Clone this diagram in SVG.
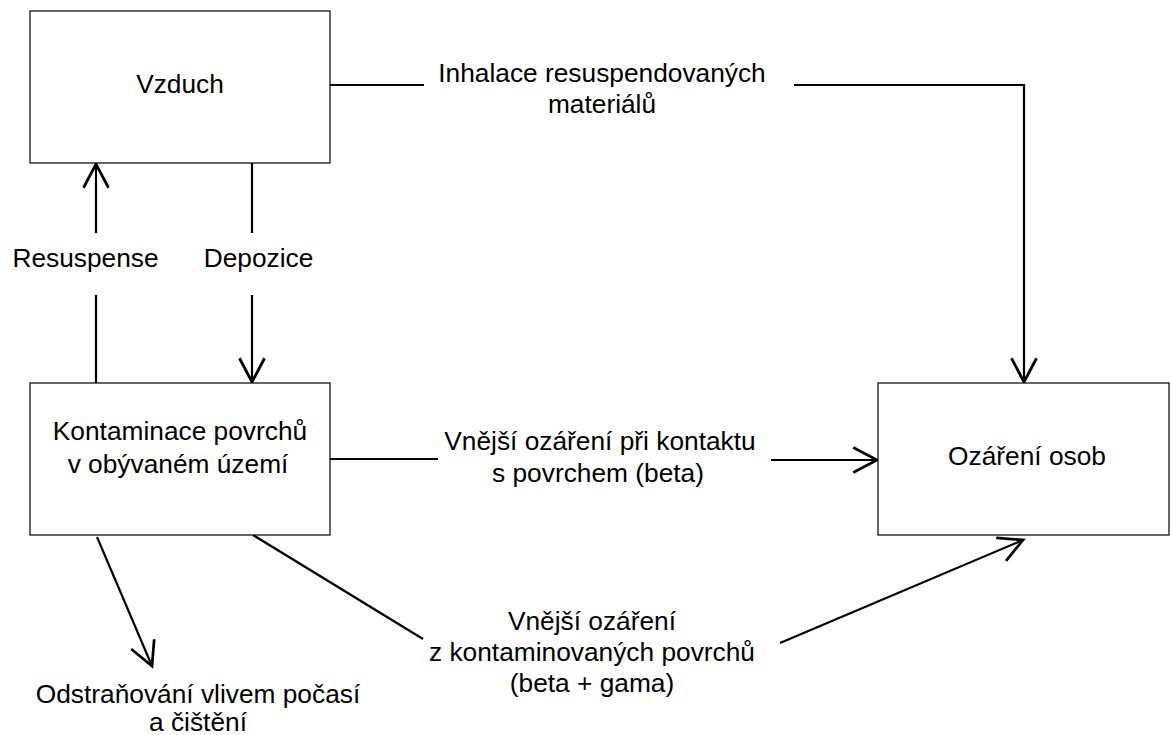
<svg xmlns="http://www.w3.org/2000/svg" width="1171" height="735" viewBox="0 0 1171 735">
<style>
.box{fill:#fff;stroke:#000;stroke-width:1.2}
.t{font-family:"Liberation Sans",Arial,sans-serif;font-size:26.3px;fill:#000;text-anchor:middle}
.c{fill:none;stroke:#000;stroke-width:2.2}
</style>
<defs>
<marker id="arr" markerUnits="userSpaceOnUse" markerWidth="30" markerHeight="30" refX="0" refY="0" viewBox="-22 -12 24 24" orient="auto" overflow="visible">
<path d="M-19,-10 L0,0 L-19,10" fill="none" stroke="#000" stroke-width="2.2"/>
</marker>
</defs>
<rect width="1171" height="735" fill="#fff"/>
<g id="connectors">
<polyline class="c" points="330,85 424,85"/>
<polyline class="c" points="794,85 1024,85 1024,382" marker-end="url(#arr)"/>
<line class="c" x1="96" y1="383" x2="96" y2="295"/>
<line class="c" x1="96" y1="233" x2="96" y2="164" marker-end="url(#arr)"/>
<line class="c" x1="252" y1="163" x2="252" y2="233"/>
<line class="c" x1="252" y1="295" x2="252" y2="382" marker-end="url(#arr)"/>
<line class="c" x1="330" y1="459" x2="438" y2="459"/>
<line class="c" x1="771" y1="460" x2="877" y2="460" marker-end="url(#arr)"/>
<line class="c" x1="253" y1="535" x2="423" y2="639"/>
<line class="c" x1="780" y1="643" x2="1023" y2="540" marker-end="url(#arr)"/>
<line class="c" x1="97" y1="537" x2="152" y2="666" marker-end="url(#arr)"/>
<text class="t" x="602" y="82">Inhalace resuspendovaných</text>
<text class="t" x="602" y="113">materiálů</text>
<text class="t" x="85.5" y="267">Resuspense</text>
<text class="t" x="258.5" y="267">Depozice</text>
<text class="t" x="600" y="450">Vnější ozáření při kontaktu</text>
<text class="t" x="598" y="482">s povrchem (beta)</text>
<text class="t" x="592" y="630">Vnější ozáření</text>
<text class="t" x="592" y="661">z kontaminovaných povrchů</text>
<text class="t" x="592" y="692">(beta + gama)</text>
<text class="t" x="198" y="703">Odstraňování vlivem počasí</text>
<text class="t" x="198" y="731">a čištění</text>
</g>
<g id="vzduch">
<rect class="box" x="30" y="11" width="300" height="152"/>
<text class="t" x="180" y="93">Vzduch</text>
</g>
<g id="kontaminace">
<rect class="box" x="30" y="383" width="300" height="152"/>
<text class="t" x="180" y="440">Kontaminace povrchů</text>
<text class="t" x="178" y="473">v obývaném území</text>
</g>
<g id="ozareni">
<rect class="box" x="878" y="383" width="291" height="152"/>
<text class="t" x="1027" y="465">Ozáření osob</text>
</g>
</svg>
